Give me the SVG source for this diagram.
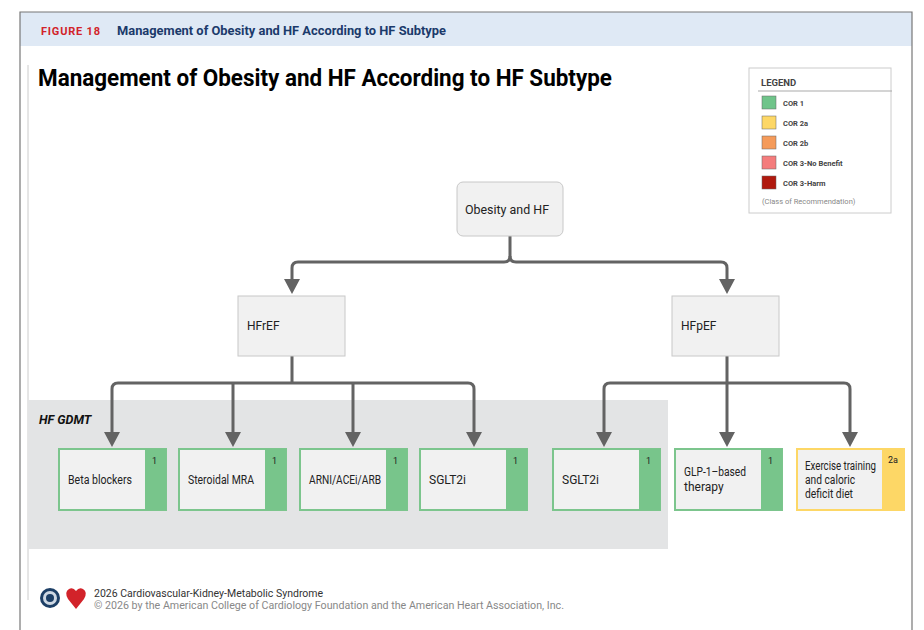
<svg xmlns="http://www.w3.org/2000/svg" width="924" height="630" viewBox="0 0 924 630">
<style>
text{font-family:Roboto,"Liberation Sans",sans-serif;fill:#222}
.n{fill:#f1f1f1;stroke:#c8c8c8;stroke-width:1}
.g{fill:#f1f1f1;stroke:#7cc58d;stroke-width:2}
.y{fill:#f1f1f1;stroke:#fdd766;stroke-width:2}
.gs{fill:#78c58b}
.ys{fill:#fdd766}
.lbl{font-size:12px}
.cor{font-size:9px}
.c{fill:none;stroke:#636363;stroke-width:3;stroke-linejoin:round}
.ah{fill:#636363}
.lg{font-size:7.5px;font-weight:bold;fill:#444}
</style>
<rect x="0" y="0" width="924" height="630" fill="#fff"/>
<rect x="20" y="12" width="892" height="34" fill="#dfe9f5"/>
<path d="M20,630 V12 H912 V630" fill="none" stroke="#777" stroke-width="1.2"/>
<line x1="28" y1="65" x2="28" y2="600" stroke="#ccc" stroke-width="1"/>
<text x="41" y="35" font-size="11" font-weight="bold" style="fill:#d2232a;letter-spacing:0.8px">FIGURE 18</text>
<text x="117" y="35" font-size="12" font-weight="bold" textLength="329" lengthAdjust="spacingAndGlyphs" style="fill:#1b3a6b">Management of Obesity and HF According to HF Subtype</text>
<text x="38" y="86" font-size="23" font-weight="bold" textLength="574" lengthAdjust="spacingAndGlyphs" style="fill:#000">Management of Obesity and HF According to HF Subtype</text>

<g id="legend">
<rect x="749" y="68" width="142" height="145" fill="#fff" stroke="#ccc"/>
<text x="761" y="86" font-size="9.5" font-weight="bold" style="fill:#444">LEGEND</text>
<line x1="758" y1="91" x2="892" y2="91" stroke="#aaa" stroke-width="1.2"/>
<rect x="762" y="96" width="14" height="13" fill="#6fc48a" stroke="#666" stroke-width="0.5"/>
<text x="783" y="106" class="lg">COR 1</text>
<rect x="762" y="116" width="14" height="13" fill="#fdd766" stroke="#666" stroke-width="0.5"/>
<text x="783" y="126" class="lg">COR 2a</text>
<rect x="762" y="136" width="14" height="13" fill="#f59b5a" stroke="#666" stroke-width="0.5"/>
<text x="783" y="146" class="lg">COR 2b</text>
<rect x="762" y="156" width="14" height="13" fill="#f47c7c" stroke="#666" stroke-width="0.5"/>
<text x="783" y="166" class="lg">COR 3-No Benefit</text>
<rect x="762" y="176" width="14" height="13" fill="#b0190e" stroke="#666" stroke-width="0.5"/>
<text x="783" y="186" class="lg">COR 3-Harm</text>
<text x="762" y="204" font-size="7.5" style="fill:#888">(Class of Recommendation)</text>
</g>

<rect x="28" y="400" width="640" height="149" fill="#e3e4e5"/>
<text x="39" y="424" font-size="12.5" font-weight="bold" font-style="italic" style="fill:#111">HF GDMT</text>

<g id="connectors">
<path class="c" d="M510,236 V256 Q510,262 504,262 H298 Q292,262 292,268 V280"/>
<path class="c" d="M510,256 Q510,262 516,262 H721 Q727,262 727,268 V280"/>
<path class="c" d="M292,356 V383 M118,383 H468"/>
<path class="c" d="M118,383 Q112,383 112,389 V433"/>
<path class="c" d="M233,383 V433"/>
<path class="c" d="M353,383 V433"/>
<path class="c" d="M468,383 Q474,383 474,389 V433"/>
<path class="c" d="M727,356 V383 M610,383 H844"/>
<path class="c" d="M610,383 Q604,383 604,389 V433"/>
<path class="c" d="M727,383 V433"/>
<path class="c" d="M844,383 Q850,383 850,389 V433"/>
<path class="ah" d="M284,279 H300 L292,294 Z"/>
<path class="ah" d="M719,279 H735 L727,294 Z"/>
<path class="ah" d="M104,432 H120 L112,447 Z"/>
<path class="ah" d="M225,432 H241 L233,447 Z"/>
<path class="ah" d="M345,432 H361 L353,447 Z"/>
<path class="ah" d="M466,432 H482 L474,447 Z"/>
<path class="ah" d="M596,432 H612 L604,447 Z"/>
<path class="ah" d="M719,432 H735 L727,447 Z"/>
<path class="ah" d="M842,432 H858 L850,447 Z"/>
</g>

<g id="obesity"><rect class="n" x="457" y="182" width="106" height="54" rx="6"/><text x="465" y="214" class="lbl" textLength="84" lengthAdjust="spacingAndGlyphs">Obesity and HF</text></g>
<g id="hfref"><rect class="n" x="238" y="296" width="107" height="60"/><text x="247" y="330" class="lbl">HFrEF</text></g>
<g id="hfpef"><rect class="n" x="672" y="296" width="107" height="60"/><text x="681" y="330" class="lbl">HFpEF</text></g>

<g id="beta"><rect class="g" x="59" y="449" width="107" height="61"/><rect class="gs" x="145" y="449" width="21" height="61"/><text x="152" y="464" class="cor">1</text><text x="68" y="484" class="lbl" textLength="64" lengthAdjust="spacingAndGlyphs">Beta blockers</text></g>
<g id="mra"><rect class="g" x="179" y="449" width="107" height="61"/><rect class="gs" x="265" y="449" width="21" height="61"/><text x="272" y="464" class="cor">1</text><text x="188" y="484" class="lbl" textLength="66" lengthAdjust="spacingAndGlyphs">Steroidal MRA</text></g>
<g id="arni"><rect class="g" x="300" y="449" width="107" height="61"/><rect class="gs" x="386" y="449" width="21" height="61"/><text x="393" y="464" class="cor">1</text><text x="309" y="484" class="lbl" textLength="72" lengthAdjust="spacingAndGlyphs">ARNI/ACEi/ARB</text></g>
<g id="sglt2a"><rect class="g" x="420" y="449" width="107" height="61"/><rect class="gs" x="506" y="449" width="21" height="61"/><text x="513" y="464" class="cor">1</text><text x="429" y="484" class="lbl">SGLT2i</text></g>
<g id="sglt2b"><rect class="g" x="553" y="449" width="107" height="61"/><rect class="gs" x="639" y="449" width="21" height="61"/><text x="646" y="464" class="cor">1</text><text x="562" y="484" class="lbl">SGLT2i</text></g>
<g id="glp"><rect class="g" x="675" y="449" width="107" height="61"/><rect class="gs" x="761" y="449" width="21" height="61"/><text x="768" y="464" class="cor">1</text><text x="684" y="476" class="lbl" textLength="62" lengthAdjust="spacingAndGlyphs">GLP-1–based</text><text x="684" y="491" class="lbl">therapy</text></g>
<g id="exercise"><rect class="y" x="797" y="449" width="107" height="61"/><rect class="ys" x="882" y="449" width="22" height="61"/><text x="888" y="463" class="cor">2a</text><text x="805" y="470" class="lbl" textLength="71" lengthAdjust="spacingAndGlyphs">Exercise training</text><text x="805" y="484" class="lbl" textLength="50" lengthAdjust="spacingAndGlyphs">and caloric</text><text x="805" y="498" class="lbl" textLength="48" lengthAdjust="spacingAndGlyphs">deficit diet</text></g>

<g id="footer">
<circle cx="50" cy="598" r="10" fill="#1d3f66"/><circle cx="50" cy="598" r="7" fill="#cfd9e4"/><circle cx="50" cy="598" r="4" fill="#1d3f66"/>
<path d="M76,609 L68,599 Q64,592 69,589 Q73,587 76,591 Q79,587 83,589 Q88,592 84,599 Z" fill="#d2232a"/>
<text x="94" y="597" font-size="10.5" style="fill:#333">2026 Cardiovascular-Kidney-Metabolic Syndrome</text>
<text x="94" y="609" font-size="10.5" textLength="470" lengthAdjust="spacingAndGlyphs" style="fill:#888">© 2026 by the American College of Cardiology Foundation and the American Heart Association, Inc.</text>
</g>
</svg>
